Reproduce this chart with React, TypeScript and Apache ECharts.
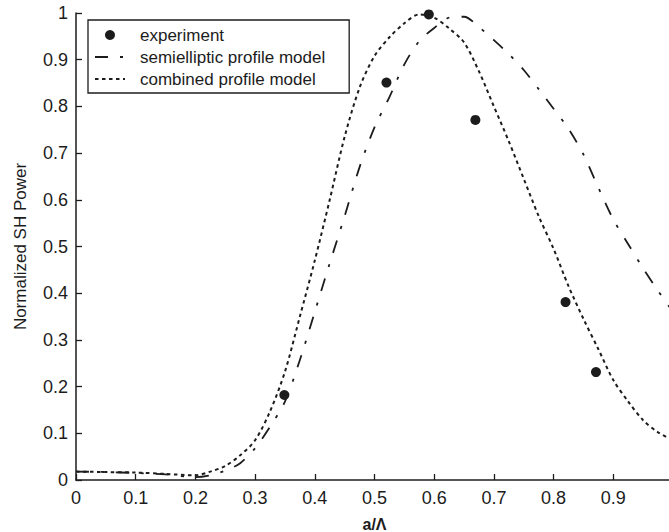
import React, { useEffect, useRef } from "react";
import * as echarts from "echarts";

const xGrid = [
  0, 0.05, 0.1, 0.15, 0.2, 0.225, 0.25, 0.275, 0.3, 0.325, 0.35, 0.375, 0.4, 0.425, 0.45, 0.475, 0.5,
  0.525, 0.55, 0.575, 0.6, 0.625, 0.65, 0.675, 0.7, 0.725, 0.75, 0.775, 0.8, 0.825, 0.85, 0.875, 0.9,
  0.925, 0.95, 0.975, 1.0,
];

const combinedModel = [
  0.018, 0.017, 0.016, 0.013, 0.01, 0.018, 0.03, 0.053, 0.085, 0.147, 0.232, 0.35, 0.47, 0.6, 0.735,
  0.84, 0.908, 0.948, 0.978, 0.997, 0.99, 0.967, 0.937, 0.875, 0.8, 0.725, 0.645, 0.565, 0.495, 0.415,
  0.345, 0.28, 0.214, 0.168, 0.128, 0.102, 0.085,
];

const semiellipticModel = [
  0.018, 0.017, 0.015, 0.012, 0.006, 0.01, 0.02, 0.036, 0.068, 0.114, 0.168, 0.257, 0.36, 0.464, 0.565,
  0.67, 0.755, 0.82, 0.89, 0.94, 0.968, 0.99, 0.992, 0.97, 0.942, 0.912, 0.878, 0.837, 0.795, 0.752,
  0.697, 0.626, 0.558, 0.505, 0.453, 0.405, 0.36,
];

const expX = [0.349, 0.52, 0.591, 0.669, 0.82, 0.871];
const expY = [0.182, 0.851, 0.997, 0.771, 0.381, 0.231];

const INK = "#1c1c1c";
const FONT = "Liberation Sans, Arial, sans-serif";
const HIDDEN_MARKER = { color: "rgba(0,0,0,0)", borderWidth: 0, opacity: 0 };

export default function App() {
  const ref = useRef<HTMLDivElement>(null);
  useEffect(() => {
    if (!ref.current) return;
    const chart = echarts.init(ref.current, undefined, { renderer: "svg" });
    const zip = (xs: number[], ys: number[]) => xs.map((x, i) => [x, ys[i]]);
    chart.setOption({
      animation: false,
      backgroundColor: "#ffffff",
      textStyle: { fontFamily: FONT, color: INK },
      grid: { left: 76, right: -4, top: 13, bottom: 52, containLabel: false, outerBoundsMode: "none" },
      legend: {
        orient: "vertical",
        left: 88,
        top: 20,
        padding: [6, 24, 5, 6],
        borderColor: INK,
        borderWidth: 1.3,
        itemWidth: 30,
        itemHeight: 10,
        itemGap: 4,
        textStyle: {
          fontFamily: FONT,
          fontSize: 17,
          color: INK,
          lineHeight: 18,
          padding: [0, 0, 0, 10],
        },
        data: [
          { name: "experiment" },
          { name: "semielliptic profile model", itemStyle: HIDDEN_MARKER },
          { name: "combined profile model", itemStyle: HIDDEN_MARKER },
        ],
      },
      xAxis: {
        type: "value",
        min: 0,
        max: 1,
        interval: 0.1,
        name: "a/Λ",
        nameLocation: "middle",
        nameGap: 36,
        nameTextStyle: { fontFamily: FONT, fontSize: 16, lineHeight: 16, fontWeight: "bold", color: INK },
        axisLine: { show: true, onZero: false, lineStyle: { color: INK, width: 1.5 } },
        axisTick: { show: true, inside: true, length: 6, lineStyle: { color: INK, width: 1.3 } },
        axisLabel: { fontFamily: FONT, fontSize: 18, color: INK, margin: 9 },
        splitLine: { show: false },
      },
      yAxis: {
        type: "value",
        min: 0,
        max: 1,
        interval: 0.1,
        name: "Normalized SH Power",
        nameLocation: "middle",
        nameGap: 47,
        nameTextStyle: { fontFamily: FONT, fontSize: 17, color: INK },
        axisLine: { show: true, onZero: false, lineStyle: { color: INK, width: 1.5 } },
        axisTick: { show: true, inside: true, length: 6, lineStyle: { color: INK, width: 1.3 } },
        axisLabel: { fontFamily: FONT, fontSize: 18, color: INK, margin: 8 },
        splitLine: { show: false },
      },
      series: [
        {
          name: "experiment",
          type: "scatter",
          symbol: "circle",
          symbolSize: 10,
          itemStyle: { color: INK, opacity: 1 },
          data: zip(expX, expY),
          z: 5,
        },
        {
          name: "semielliptic profile model",
          type: "line",
          symbol: "none",
          smooth: 0.3,
          itemStyle: { color: INK },
          lineStyle: { color: INK, width: 1.8, type: [13, 12, 3, 12] },
          data: zip(xGrid, semiellipticModel),
        },
        {
          name: "combined profile model",
          type: "line",
          symbol: "none",
          smooth: 0.3,
          itemStyle: { color: INK },
          lineStyle: { color: INK, width: 2, type: [3.5, 3.5] },
          data: zip(xGrid, combinedModel),
        },
      ],
    });
    return () => chart.dispose();
  }, []);
  return (
    <div
      ref={ref}
      style={{ position: "fixed", left: 0, top: 0, width: 669, height: 532, background: "#fff" }}
    />
  );
}
